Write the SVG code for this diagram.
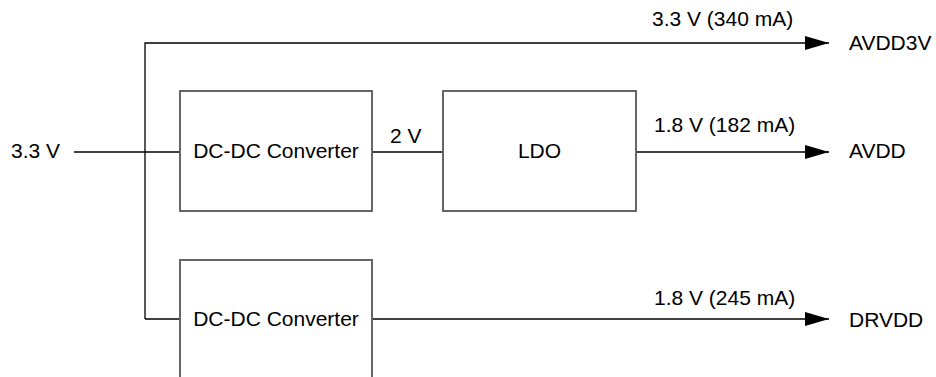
<svg xmlns="http://www.w3.org/2000/svg" width="936" height="377" viewBox="0 0 936 377">
<style>
.box{fill:#fff;stroke:#666;stroke-width:2}
.wire{fill:none;stroke:#000;stroke-width:1.3}
text{font-family:"Liberation Sans",Arial,sans-serif;font-size:21px;fill:#000}
.c{text-anchor:middle}
</style>
<defs>
<marker id="arr" markerUnits="userSpaceOnUse" markerWidth="26" markerHeight="16" refX="24" refY="7" orient="auto">
<path d="M0,0 L24,7 L0,14 Z" fill="#000"/>
</marker>
</defs>
<rect width="936" height="377" fill="#fff"/>
<g id="connectors">
<path class="wire" d="M74,152 H180"/>
<path class="wire" d="M145,319 V43 H829" marker-end="url(#arr)"/>
<path class="wire" d="M145,319 H180"/>
<path class="wire" d="M372,152 H443"/>
<path class="wire" d="M636,152 H829" marker-end="url(#arr)"/>
<path class="wire" d="M372,319 H829" marker-end="url(#arr)"/>
</g>
<g id="dcdc1">
<rect class="box" x="180" y="91" width="192" height="120"/>
<text class="c" x="276" y="158">DC-DC Converter</text>
</g>
<g id="ldo">
<rect class="box" x="443" y="91" width="193" height="120"/>
<text class="c" x="539.5" y="158">LDO</text>
</g>
<g id="dcdc2">
<rect class="box" x="180" y="260" width="192" height="120"/>
<text class="c" x="276" y="326">DC-DC Converter</text>
</g>
<g id="labels">
<text x="11" y="158">3.3 V</text>
<text x="390" y="143">2 V</text>
<text x="652" y="26">3.3 V (340 mA)</text>
<text x="654" y="132">1.8 V (182 mA)</text>
<text x="654" y="305">1.8 V (245 mA)</text>
<text x="849" y="50">AVDD3V</text>
<text x="849" y="158">AVDD</text>
<text x="849" y="327">DRVDD</text>
</g>
</svg>
